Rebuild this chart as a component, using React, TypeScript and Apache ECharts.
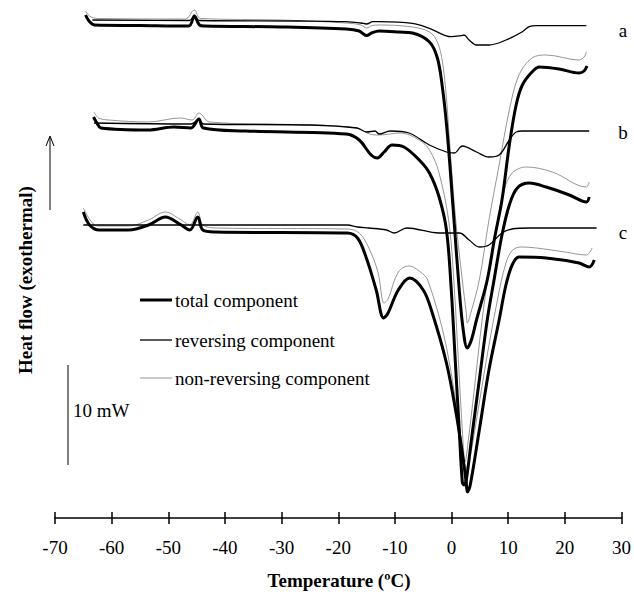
import React, { useEffect, useRef } from "react";
import * as echarts from "echarts";

// Temperature (°C), heat flow (mW, arbitrary offset per curve set)
const totalA = [[-64.6,50.3],[-64.0,49.7],[-63.0,49.3],[-55.0,49.25],[-46.4,49.2],[-45.4,50.2],[-44.5,49.3],[-43.6,49.2],[-30.0,49.1],[-18.6,48.9],[-16.3,48.7],[-15.0,48.25],[-14.1,48.5],[-12.8,48.7],[-9.2,48.6],[-6.9,48.5],[-3.9,47.6],[-2.5,46.0],[-1.6,43.0],[-0.8,38.8],[0.3,30.8],[1.36,22.8],[2.06,18.8],[2.77,17.0],[3.5,17.8],[4.4,19.8],[6.3,23.8],[7.6,28.0],[8.9,31.8],[10.2,37.3],[11.4,41.3],[12.5,43.3],[14.2,44.6],[15.5,45.1],[19.0,44.9],[22.5,44.5],[23.4,44.7],[23.9,45.2]];
const nonRevA = [[-64.6,50.7],[-63.9,50.2],[-62.5,49.95],[-47.0,49.9],[-45.4,50.8],[-44.3,49.95],[-30.0,49.8],[-18.6,49.5],[-16.0,49.3],[-15.0,49.0],[-14.0,49.25],[-12.8,49.3],[-6.9,49.1],[-3.9,48.6],[-2.5,47.6],[-1.6,45.6],[-0.9,42.0],[-0.4,38.0],[0.7,30.0],[1.9,23.8],[2.6,20.5],[2.8,19.5],[3.3,20.3],[4.9,23.8],[6.6,29.8],[8.4,35.3],[10.2,40.8],[11.9,44.3],[14.2,46.0],[16.7,46.3],[22.5,45.8],[23.4,46.1],[23.8,46.6]];
const revA = [[-63.4,49.8],[-46.3,49.75],[-45.4,50.1],[-44.5,49.75],[-26.9,49.7],[-18.6,49.63],[-16.0,49.5],[-15.0,49.4],[-13.9,49.63],[-12.8,49.63],[-6.9,49.47],[-3.9,48.97],[-0.05,48.13],[1.7,48.23],[2.2,48.3],[3.1,47.8],[4.4,47.3],[6.6,47.3],[9.6,47.8],[12.5,48.63],[13.7,49.13],[15.0,49.23],[23.8,49.23]];

const totalB = [[-63.2,40.1],[-62.6,39.5],[-61.9,39.0],[-53.6,38.8],[-49.0,39.1],[-46.0,39.0],[-44.6,39.9],[-43.8,39.0],[-36.4,38.7],[-18.6,38.4],[-16.3,37.8],[-14.2,36.3],[-13.1,36.0],[-11.9,36.6],[-10.5,37.3],[-8.4,37.1],[-5.7,35.8],[-3.9,34.5],[-2.2,32.1],[-0.9,28.8],[-0.05,22.8],[0.65,15.8],[1.36,8.8],[1.9,3.6],[2.2,3.3],[2.6,3.8],[3.5,7.8],[4.9,13.8],[6.3,19.8],[7.5,23.8],[8.9,28.3],[10.2,31.3],[11.6,33.0],[13.7,33.5],[16.7,33.1],[20.8,32.3],[23.8,31.6],[24.3,32.1]];
const nonRevB = [[-63.1,40.6],[-62.3,40.0],[-60.5,39.8],[-53.6,39.6],[-47.9,40.0],[-45.8,39.8],[-44.6,40.5],[-42.7,39.6],[-24.9,39.3],[-16.7,39.0],[-14.5,38.4],[-12.8,38.3],[-9.1,38.5],[-5.7,37.8],[-3.9,36.8],[-2.2,34.5],[-0.4,29.3],[0.5,22.8],[1.2,15.8],[1.9,8.8],[2.4,5.6],[2.9,7.5],[4.0,12.8],[5.4,19.8],[6.6,24.8],[8.0,29.3],[9.3,32.8],[10.7,34.5],[13.2,35.1],[17.8,34.6],[23.8,33.1],[24.3,33.6]];
const revB = [[-63.1,39.5],[-46.0,39.4],[-44.6,39.8],[-43.8,39.4],[-25.0,39.3],[-16.7,39.0],[-15.0,38.6],[-13.5,38.7],[-12.8,38.4],[-10.8,38.7],[-7.5,38.5],[-3.9,37.3],[-0.9,36.6],[0.5,36.5],[1.9,37.2],[4.4,36.6],[6.6,36.1],[8.4,36.3],[10.2,37.8],[11.4,38.6],[12.5,38.7],[24.3,38.7]];

const totalC = [[-65.0,30.6],[-63.9,29.3],[-62.2,28.8],[-57.0,28.8],[-53.5,29.3],[-50.5,30.1],[-48.0,29.4],[-46.2,28.8],[-44.8,30.1],[-43.9,28.8],[-41.7,28.6],[-18.4,28.5],[-16.6,28.0],[-15.1,26.1],[-13.3,22.8],[-12.0,20.0],[-11.3,20.4],[-9.4,22.8],[-7.4,24.0],[-5.0,22.8],[-3.4,20.5],[-0.9,15.5],[0.8,10.5],[1.9,6.5],[2.6,3.5],[2.8,2.6],[3.3,3.3],[4.9,8.8],[6.6,14.8],[8.4,19.8],[9.6,23.3],[10.7,25.3],[11.9,26.1],[16.7,26.0],[22.5,25.5],[24.3,25.1],[25.2,25.8]];
const nonRevC = [[-65.0,31.0],[-63.8,29.8],[-62.5,29.2],[-57.0,29.2],[-53.5,29.8],[-50.5,30.6],[-48.0,29.9],[-46.2,29.3],[-44.8,30.6],[-43.9,29.3],[-41.7,29.0],[-18.4,28.9],[-16.3,28.5],[-14.6,27.0],[-13.0,24.6],[-11.9,21.5],[-11.2,21.9],[-9.4,24.6],[-7.5,25.2],[-5.5,24.6],[-4.2,23.8],[-0.9,17.1],[1.9,7.1],[2.6,5.0],[3.2,5.9],[4.6,10.5],[6.3,16.3],[8.1,21.8],[9.6,25.5],[10.8,26.8],[12.3,27.1],[15.0,27.0],[20.0,26.6],[23.8,26.3],[24.8,27.0]];
const revC = [[-65.0,29.3],[-18.4,29.3],[-16.6,29.1],[-14.6,29.0],[-11.5,28.8],[-10.1,28.5],[-7.9,29.0],[-2.2,28.5],[1.4,28.5],[3.1,27.8],[4.9,27.1],[6.6,27.3],[8.9,28.5],[10.7,28.9],[13.7,29.0],[25.6,29.0]];

const curveLabels = ["a", "b", "c"];
const legendLabels = ["total component", "reversing component", "non-reversing component"];
const xTitle = "Temperature (\u00baC)";
const yTitle = "Heat flow (exothermal)";
const scaleLabel = "10 mW";

const FONT = "'Liberation Serif', 'Times New Roman', serif";

export default function App() {
  const ref = useRef<HTMLDivElement>(null);
  useEffect(() => {
    if (!ref.current) return;
    const chart = echarts.init(ref.current, undefined, { renderer: "svg" });
    const styles = {
      total: { color: "#000", width: 3 },
      rev: { color: "#000", width: 1.3 },
      non: { color: "#8a8a8a", width: 0.9 },
    };
    const mk = (data: number[][], st: { color: string; width: number }, z: number) => ({
      type: "line",
      data,
      showSymbol: false,
      smooth: 0.35,
      z,
      lineStyle: { color: st.color, width: st.width },
      silent: true,
    });
    const series: any[] = [
      mk(nonRevA, styles.non, 1), mk(nonRevB, styles.non, 1), mk(nonRevC, styles.non, 1),
      mk(revA, styles.rev, 2), mk(revB, styles.rev, 2), mk(revC, styles.rev, 2),
      mk(totalA, styles.total, 3), mk(totalB, styles.total, 3), mk(totalC, styles.total, 3),
    ];
    const labelY = [30, 132, 232];
    const legendY = [300, 340, 378];
    const legendStyles = [styles.total, styles.rev, styles.non];
    const graphic: any[] = [];
    curveLabels.forEach((t, i) =>
      graphic.push({ type: "text", x: 623, y: labelY[i], style: { text: t, font: `19px ${FONT}`, fill: "#000", textAlign: "center", textVerticalAlign: "middle" } })
    );
    legendLabels.forEach((t, i) => {
      graphic.push({ type: "line", shape: { x1: 140, y1: legendY[i], x2: 172, y2: legendY[i] }, style: { stroke: legendStyles[i].color, lineWidth: legendStyles[i].width } });
      graphic.push({ type: "text", x: 175, y: legendY[i], style: { text: t, font: `19px ${FONT}`, fill: "#000", textAlign: "left", textVerticalAlign: "middle" } });
    });
    graphic.push({ type: "line", shape: { x1: 50, y1: 210, x2: 50, y2: 137 }, style: { stroke: "#000", lineWidth: 1 } });
    graphic.push({ type: "polyline", shape: { points: [[46, 146], [50, 136], [54, 146]] }, style: { stroke: "#000", lineWidth: 1, fill: null } });
    graphic.push({ type: "text", x: 25, y: 280, rotation: Math.PI / 2, style: { text: yTitle, font: `bold 19px ${FONT}`, fill: "#000", textAlign: "center", textVerticalAlign: "middle" } });
    graphic.push({ type: "line", shape: { x1: 68, y1: 365, x2: 68, y2: 465 }, style: { stroke: "#000", lineWidth: 1 } });
    graphic.push({ type: "text", x: 73, y: 410, style: { text: scaleLabel, font: `19px ${FONT}`, fill: "#000", textAlign: "left", textVerticalAlign: "middle" } });
    graphic.push({ type: "text", x: 339, y: 580, style: { text: xTitle, font: `bold 19px ${FONT}`, fill: "#000", textAlign: "center", textVerticalAlign: "middle" } });

    chart.setOption({
      animation: false,
      grid: { left: 55, right: 11, top: 0, bottom: 74, containLabel: false },
      xAxis: [
        {
          type: "value", min: -70, max: 30, interval: 10, position: "bottom", offset: 0,
          axisLine: { lineStyle: { color: "#000", width: 1.5 } },
          axisTick: { inside: false, length: 6, lineStyle: { color: "#000", width: 1.5 } },
          axisLabel: { color: "#000", fontFamily: FONT, fontSize: 19, margin: 20 },
          splitLine: { show: false },
        },
        {
          type: "value", min: -70, max: 30, interval: 10, position: "bottom", offset: 0,
          axisLine: { show: false },
          axisTick: { inside: true, length: 6, lineStyle: { color: "#000", width: 1.5 } },
          axisLabel: { show: false },
          splitLine: { show: false },
        },
      ],
      yAxis: { type: "value", min: 0, max: 51.8, show: false, splitLine: { show: false } },
      series,
      graphic,
    });
    return () => chart.dispose();
  }, []);
  return <div ref={ref} style={{ position: "fixed", left: 0, top: 0, width: 634, height: 592, background: "#fff" }} />;
}
